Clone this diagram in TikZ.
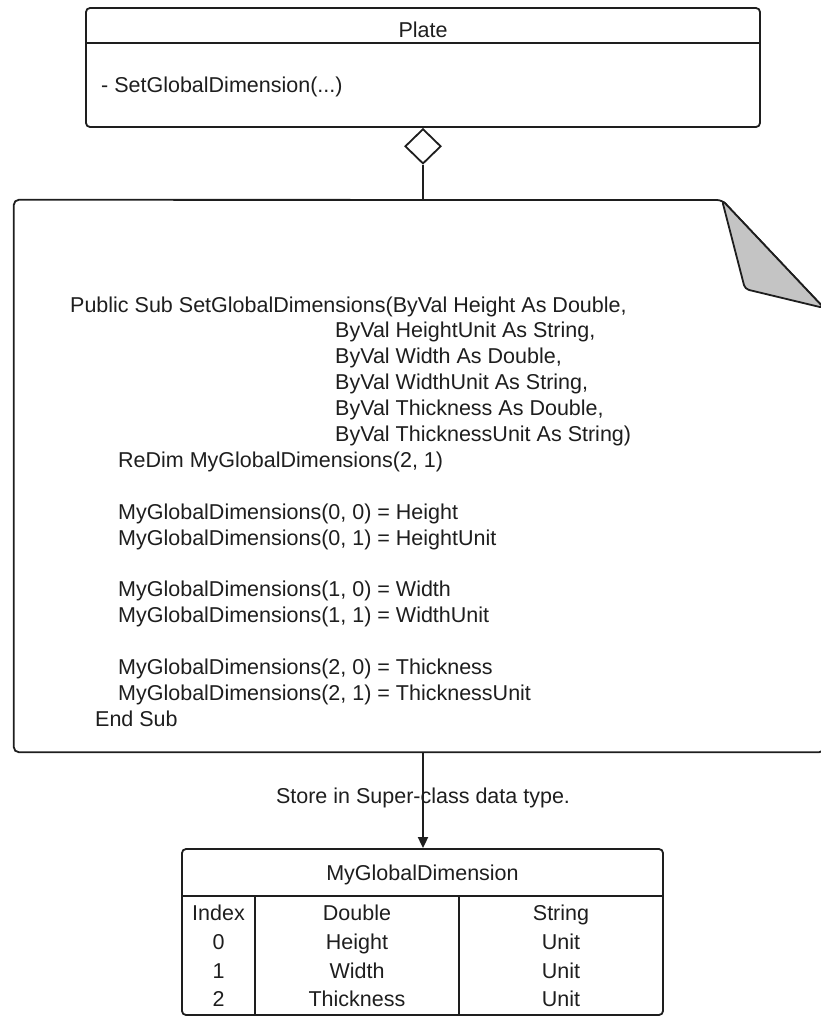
\documentclass[tikz,border=0pt]{standalone}
\usepackage{fontspec}
\setmainfont{Liberation Sans}
\usetikzlibrary{arrows.meta,shapes.geometric}
\definecolor{ink}{HTML}{1E1E1E}
\definecolor{foldgray}{HTML}{C4C4C4}
\begin{document}
\begin{tikzpicture}[x=1pt,y=-1pt,
  outline/.style={draw=ink, line width=1.8pt},
  lbl/.style={inner sep=0pt, text=ink, font=\fontsize{21.5}{25.9}\selectfont},
  codeline/.style={lbl, anchor=base west},
  cell/.style={lbl, anchor=base},
]
\useasboundingbox (0,0) rectangle (821,1018);
\clip (0,0) rectangle (821,1018);

% Plate class box
\node[outline, rounded corners=4pt, minimum width=674pt, minimum height=119pt, inner sep=0pt] (plate) at (423,67.5) {};
\draw[outline] (plate.west |- 0,43) -- (plate.east |- 0,43);
\node[cell] (platename) at (423,37) {Plate};
\node[codeline] (platemethod) at (101,92) {- SetGlobalDimension(...)};

% aggregation diamond
\node[outline, diamond, fill=white, minimum width=36pt, minimum height=35pt, inner sep=0pt, anchor=north] (agg) at (plate.south) {};

% note with folded corner
\node[minimum width=810pt, minimum height=552pt, inner sep=0pt] (note) at (419,476) {};
\draw[outline, rounded corners=5pt, fill=white] (722,200) -- (note.north west) -- (note.south west) -- (note.south east) -- (824,308) -- cycle;
\draw[outline, fill=foldgray, rounded corners=4pt, line join=round] (722,200) -- (745,289) -- (824,308) -- cycle;

% code in the note
\node[codeline] (c1)  at (70,312)    {Public Sub SetGlobalDimensions(ByVal Height As Double,};
\node[codeline] (c2)  at (335,337.9) {ByVal HeightUnit As String,};
\node[codeline] (c3)  at (335,363.8) {ByVal Width As Double,};
\node[codeline] (c4)  at (335,389.7) {ByVal WidthUnit As String,};
\node[codeline] (c5)  at (335,415.6) {ByVal Thickness As Double,};
\node[codeline] (c6)  at (335,441.5) {ByVal ThicknessUnit As String)};
\node[codeline] (c7)  at (118,467.4) {ReDim MyGlobalDimensions(2, 1)};
\node[codeline] (c8)  at (118,519.2) {MyGlobalDimensions(0, 0) = Height};
\node[codeline] (c9)  at (118,545.1) {MyGlobalDimensions(0, 1) = HeightUnit};
\node[codeline] (c10) at (118,596.9) {MyGlobalDimensions(1, 0) = Width};
\node[codeline] (c11) at (118,622.8) {MyGlobalDimensions(1, 1) = WidthUnit};
\node[codeline] (c12) at (118,674.6) {MyGlobalDimensions(2, 0) = Thickness};
\node[codeline] (c13) at (118,700.5) {MyGlobalDimensions(2, 1) = ThicknessUnit};
\node[codeline] (c14) at (95,726.4)  {End Sub};

% data table
\node[outline, rounded corners=4pt, minimum width=481pt, minimum height=166pt, inner sep=0pt] (tbl) at (422.5,932) {};
\draw[outline] (tbl.west |- 0,896) -- (tbl.east |- 0,896);
\draw[outline] (255,896) -- (tbl.south -| 255,0);
\draw[outline] (459,896) -- (tbl.south -| 459,0);
\node[cell] (tblname) at (422.5,880) {MyGlobalDimension};
\node[cell] (h1) at (218.5,920) {Index};
\node[cell] (h2) at (357,920) {Double};
\node[cell] (h3) at (561,920) {String};
\node[cell] (r1a) at (218.5,949) {0};
\node[cell] (r1b) at (357,949) {Height};
\node[cell] (r1c) at (561,949) {Unit};
\node[cell] (r2a) at (218.5,978) {1};
\node[cell] (r2b) at (357,978) {Width};
\node[cell] (r2c) at (561,978) {Unit};
\node[cell] (r3a) at (218.5,1006) {2};
\node[cell] (r3b) at (357,1006) {Thickness};
\node[cell] (r3c) at (561,1006) {Unit};

% connectors
\draw[outline] (agg.south) -- (agg.south |- note.north);
\draw[outline, -{Triangle[length=11pt,width=10pt]}] (agg.south |- note.south) -- (agg.south |- tbl.north);
\node[cell] (storelbl) at (423,803) {Store in Super-class data type.};
\end{tikzpicture}
\end{document}
